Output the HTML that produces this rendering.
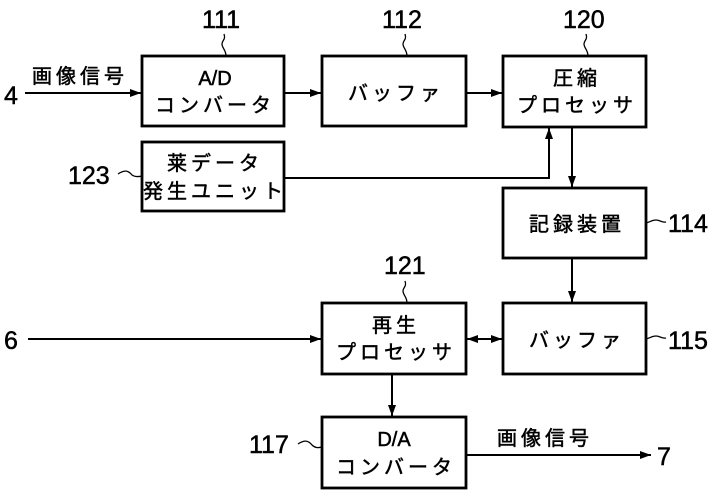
<!DOCTYPE html>
<html><head><meta charset="utf-8"><style>
html,body{margin:0;padding:0;background:#fff;}
svg{display:block;}
text{font-family:"Liberation Sans","Noto Sans CJK JP",sans-serif;fill:#000;stroke:#000;stroke-width:0.5;}
.n{font-size:25px;}
.j{font-size:20px;letter-spacing:4px;}
</style></head><body>
<svg width="719" height="491" viewBox="0 0 719 491" xmlns="http://www.w3.org/2000/svg">
<defs><marker id="a" markerWidth="11" markerHeight="8" refX="11" refY="4" orient="auto" markerUnits="userSpaceOnUse"><path d="M0,0 L11,4 L0,8 z" fill="#000"/></marker></defs>
<g fill="none" stroke="#000" stroke-width="2.8">
<rect x="142" y="56" width="142" height="70"/>
<rect x="322" y="56" width="144" height="70"/>
<rect x="503" y="56" width="143" height="71"/>
<rect x="142" y="142" width="142" height="69"/>
<rect x="503" y="188" width="143" height="70"/>
<rect x="322" y="303" width="144" height="71"/>
<rect x="503" y="303" width="143" height="71"/>
<rect x="322" y="417" width="144" height="71"/>
</g>
<g fill="none" stroke="#000" stroke-width="2">
<line x1="25" y1="93" x2="141" y2="93" marker-end="url(#a)"/>
<line x1="284" y1="93" x2="321" y2="93" marker-end="url(#a)"/>
<line x1="466" y1="93" x2="502" y2="93" marker-end="url(#a)"/>
<polyline points="284,178 549,178 549,128" marker-end="url(#a)"/>
<line x1="572" y1="127" x2="572" y2="187" marker-end="url(#a)"/>
<line x1="572" y1="258" x2="572" y2="302" marker-end="url(#a)"/>
<line x1="28" y1="339" x2="321" y2="339" marker-end="url(#a)"/>
<line x1="480" y1="339" x2="502" y2="339" marker-end="url(#a)"/>
<line x1="490" y1="339" x2="467" y2="339" marker-end="url(#a)"/>
<line x1="392" y1="374" x2="392" y2="416" marker-end="url(#a)"/>
<line x1="466" y1="455" x2="651" y2="455" marker-end="url(#a)"/>
</g>
<g fill="none" stroke="#000" stroke-width="1.3">
<path d="M226,56 C226,50 222,48 222,44 C222,40 226,40 224,34"/>
<path d="M407,56 C407,50 403,48 403,44 C403,40 407,40 405,34"/>
<path d="M588,56 C588,50 584,48 584,44 C584,40 588,40 586,34"/>
<path d="M407,303 C407,297 403,295 403,291 C403,287 407,287 405,281"/>
<path d="M118,174 C124,170 128,170 132,175 C135,177 138,177 142,176"/>
<path d="M646,223 C650,222 652,220 656,220 C660,220 662,223 666,222"/>
<path d="M646,339 C650,338 652,336 656,336 C660,336 662,339 666,338"/>
<path d="M298,444 C304,440 308,440 312,445 C315,448 318,448 322,447"/>
</g>
<g class="n">
<text x="202" y="28">111</text>
<text x="382" y="28">112</text>
<text x="563" y="28">120</text>
<text x="384" y="274">121</text>
<text x="68" y="184">123</text>
<text x="668" y="232">114</text>
<text x="668" y="349">115</text>
<text x="249" y="453">117</text>
<text x="4" y="104">4</text>
<text x="4" y="349">6</text>
<text x="657" y="465">7</text>
</g>
<g class="j" text-anchor="middle">
<text x="80" y="83">画像信号</text>
<text x="215" y="85" style="letter-spacing:0">A/D</text>
<text x="215" y="112">コンバータ</text>
<text x="396" y="100">バッファ</text>
<text x="577" y="85">圧縮</text>
<text x="577" y="112">プロセッサ</text>
<text x="215" y="170">莱データ</text>
<text x="215" y="198">発生ユニット</text>
<text x="577" y="231">記録装置</text>
<text x="396" y="332">再生</text>
<text x="396" y="359">プロセッサ</text>
<text x="577" y="347">バッファ</text>
<text x="394" y="446" style="letter-spacing:0">D/A</text>
<text x="396" y="474">コンバータ</text>
<text x="545" y="445">画像信号</text>
</g>
</svg>
</body></html>
